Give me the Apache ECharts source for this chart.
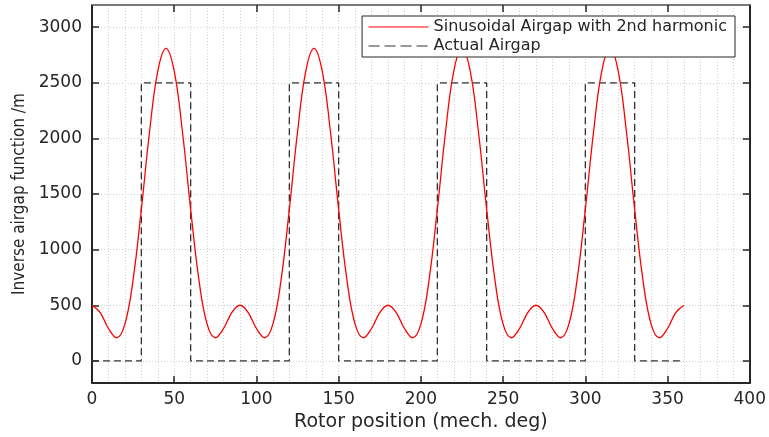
<!DOCTYPE html>
<html>
<head>
<meta charset="utf-8">
<script src="https://cdn.jsdelivr.net/npm/echarts@6/dist/echarts.min.js"></script>
<style>
  html, body { margin: 0; padding: 0; background: #fff; }
  #main { width: 769px; height: 437px; }
</style>
</head>
<body>
<div id="main"></div>
<script>
// rotor position, every 5 deg
var rotorPos = [];
for (var i = 0; i <= 72; i++) rotorPos.push(i * 5);

// sinusoidal airgap with 2nd harmonic (5 deg steps)
var sinusoidal = [
    500, 434, 291, 208, 330, 731, 1362, 2060, 2605, 2810, 2605, 2060, 1362, 731, 330, 208, 291, 434,
    500, 434, 291, 208, 330, 731, 1362, 2060, 2605, 2810, 2605, 2060, 1362, 731, 330, 208, 291, 434,
    500, 434, 291, 208, 330, 731, 1362, 2060, 2605, 2810, 2605, 2060, 1362, 731, 330, 208, 291, 434,
    500, 434, 291, 208, 330, 731, 1362, 2060, 2605, 2810, 2605, 2060, 1362, 731, 330, 208, 291, 434,
    500
];

// actual airgap (step outline)
var actualX = [0, 30, 30, 60, 60, 120, 120, 150, 150, 210, 210, 240, 240, 300, 300, 330, 330, 360];
var actualY = [0, 0, 2500, 2500, 0, 0, 2500, 2500, 0, 0, 2500, 2500, 0, 0, 2500, 2500, 0, 0];

var yTicks = [0, 500, 1000, 1500, 2000, 2500, 3000];

var sinData = rotorPos.map(function (x, i) { return [x, sinusoidal[i]]; });
var actData = actualX.map(function (x, i) { return [x, actualY[i]]; });

var wide = 'DejaVu Sans, Verdana, sans-serif';
var gridLine = { show: true, lineStyle: { color: '#cfcfcf', type: [1, 2], width: 1 } };

var myChart = echarts.init(document.getElementById('main'));
var option = {
    animation: false,
    textStyle: { fontFamily: wide },
    grid: { left: 92, right: 18, top: 5, bottom: 49, containLabel: false },
    legend: {
        right: 34,
        top: 16,
        orient: 'vertical',
        itemWidth: 60,
        itemHeight: 14,
        itemGap: 3,
        padding: [3, 8, 3, 6],
        backgroundColor: '#fff',
        borderColor: '#262626',
        borderWidth: 1,
        borderRadius: 0,
        itemStyle: { opacity: 0 },
        textStyle: { fontSize: 16, lineHeight: 14, color: '#262626', fontFamily: wide },
        data: [
            { name: 'Sinusoidal Airgap with 2nd harmonic', lineStyle: { width: 1 } },
            { name: 'Actual Airgap', lineStyle: { width: 1, type: [11, 5] } }
        ]
    },
    xAxis: [{
        type: 'value',
        min: 0,
        max: 400,
        interval: 50,
        name: 'Rotor position (mech. deg)',
        nameLocation: 'middle',
        nameGap: 24,
        nameTextStyle: { fontSize: 19, color: '#262626', fontFamily: wide },
        axisLine: { show: true, onZero: false, lineStyle: { color: '#262626', width: 2 } },
        axisTick: { show: true, inside: true, length: 7, lineStyle: { color: '#262626', width: 1.5 } },
        axisLabel: { fontSize: 17, color: '#262626', margin: 8 },
        splitLine: gridLine,
        minorTick: { show: false, splitNumber: 5 },
        minorSplitLine: gridLine
    }, {
        type: 'value',
        position: 'top',
        min: 0,
        max: 400,
        interval: 50,
        axisLine: { show: true, onZero: false, lineStyle: { color: '#7a7a7a', width: 2 } },
        axisTick: { show: true, inside: true, length: 7, lineStyle: { color: '#262626', width: 1.5 } },
        axisLabel: { show: false },
        splitLine: { show: false }
    }],
    yAxis: [{
        type: 'value',
        min: -200,
        max: 3200,
        interval: 100,
        name: 'Inverse airgap function /m',
        nameLocation: 'middle',
        nameGap: 63,
        nameTextStyle: { fontSize: 17, color: '#262626', fontFamily: 'DejaVu Sans Condensed, Liberation Sans, Arial, sans-serif' },
        axisLine: { show: true, onZero: false, lineStyle: { color: '#262626', width: 2 } },
        axisTick: { show: true, inside: true, length: 7, customValues: yTicks, lineStyle: { color: '#262626', width: 1.5 } },
        axisLabel: {
            fontSize: 17, color: '#262626', margin: 10,
            customValues: yTicks,
            formatter: function (v) { return String(v); }
        },
        splitLine: gridLine
    }, {
        type: 'value',
        position: 'right',
        min: -200,
        max: 3200,
        interval: 100,
        axisLine: { show: true, onZero: false, lineStyle: { color: '#262626', width: 2 } },
        axisTick: { show: true, inside: true, length: 7, customValues: yTicks, lineStyle: { color: '#262626', width: 1.5 } },
        axisLabel: { show: false },
        splitLine: { show: false }
    }],
    series: [{
        name: 'Sinusoidal Airgap with 2nd harmonic',
        type: 'line',
        data: sinData,
        smooth: 0.4,
        symbol: 'none',
        lineStyle: { color: '#ff0000', width: 1.3 },
        itemStyle: { color: '#ff0000' },
        z: 3
    }, {
        name: 'Actual Airgap',
        type: 'line',
        data: actData,
        symbol: 'none',
        lineStyle: { color: '#333333', width: 1.3, type: [7, 4] },
        itemStyle: { color: '#333333' },
        z: 2
    }]
};
myChart.setOption(option);
</script>
</body>
</html>
